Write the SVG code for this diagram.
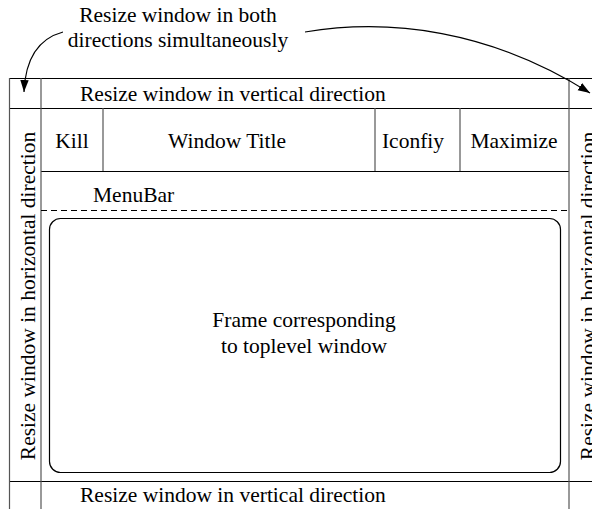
<svg xmlns="http://www.w3.org/2000/svg" width="592" height="509" viewBox="0 0 592 509">
<style>
text{font-family:'Liberation Serif','Times New Roman',Times,serif;font-size:21.5px;fill:#000}
.m{text-anchor:middle}
.h{stroke:#000;stroke-width:1;fill:none}
.v{stroke:#555;stroke-width:1.2;fill:none}
.c{stroke:#000;stroke-width:1.2;fill:none}
</style>
<defs>
<marker id="ah" viewBox="0 0 10 10" refX="10" refY="5" markerWidth="12" markerHeight="12" markerUnits="userSpaceOnUse" orient="auto">
<path d="M0,1.5 L10,5 L0,8.5 Z" fill="#000"/>
</marker>
</defs>
<g id="frame-lines">
<line class="h" x1="9" y1="78.5" x2="601" y2="78.5"/>
<line class="h" x1="9" y1="108.5" x2="601" y2="108.5"/>
<line class="h" x1="41" y1="171.5" x2="569" y2="171.5"/>
<line class="h" x1="9" y1="481.5" x2="601" y2="481.5"/>
<line class="v" x1="9.5" y1="78" x2="9.5" y2="509"/>
<line class="v" x1="41" y1="78" x2="41" y2="509"/>
<line class="v" x1="569" y1="78" x2="569" y2="509"/>
<line class="v" x1="103" y1="108" x2="103" y2="171"/>
<line class="v" x1="375" y1="108" x2="375" y2="171"/>
<line class="v" x1="460" y1="108" x2="460" y2="171"/>
</g>
<g id="both-label">
<text class="m" x="178" y="22">Resize window in both</text>
<text class="m" x="178" y="47">directions simultaneously</text>
</g>
<g id="vertical-top"><text x="80" y="101">Resize window in vertical direction</text></g>
<g id="vertical-bottom"><text x="80" y="502">Resize window in vertical direction</text></g>
<g id="horizontal-left"><text class="m" transform="translate(35,296) rotate(-90)">Resize window in horizontal direction</text></g>
<g id="horizontal-right"><text class="m" transform="translate(595,296) rotate(-90)">Resize window in horizontal direction</text></g>
<g id="kill"><text class="m" x="72" y="148">Kill</text></g>
<g id="title"><text class="m" x="227" y="148">Window Title</text></g>
<g id="iconfiy"><text class="m" x="413" y="148">Iconfiy</text></g>
<g id="maximize"><text class="m" x="514" y="148">Maximize</text></g>
<g id="menubar">
<text x="93" y="202">MenuBar</text>
<line x1="41" y1="210.5" x2="569" y2="210.5" stroke="#000" stroke-width="1" stroke-dasharray="6,4"/>
</g>
<g id="toplevel">
<rect x="49.5" y="218.5" width="511" height="254" rx="11" ry="11" fill="none" stroke="#000" stroke-width="1.2"/>
<text class="m" x="304" y="327">Frame corresponding</text>
<text class="m" x="304" y="353">to toplevel window</text>
</g>
<g id="connectors">
<path class="c" d="M63,32 Q26,42 24,92" marker-end="url(#ah)"/>
<path class="c" d="M305,32 C390,18 490,30 590,93" marker-end="url(#ah)"/>
</g>
</svg>
